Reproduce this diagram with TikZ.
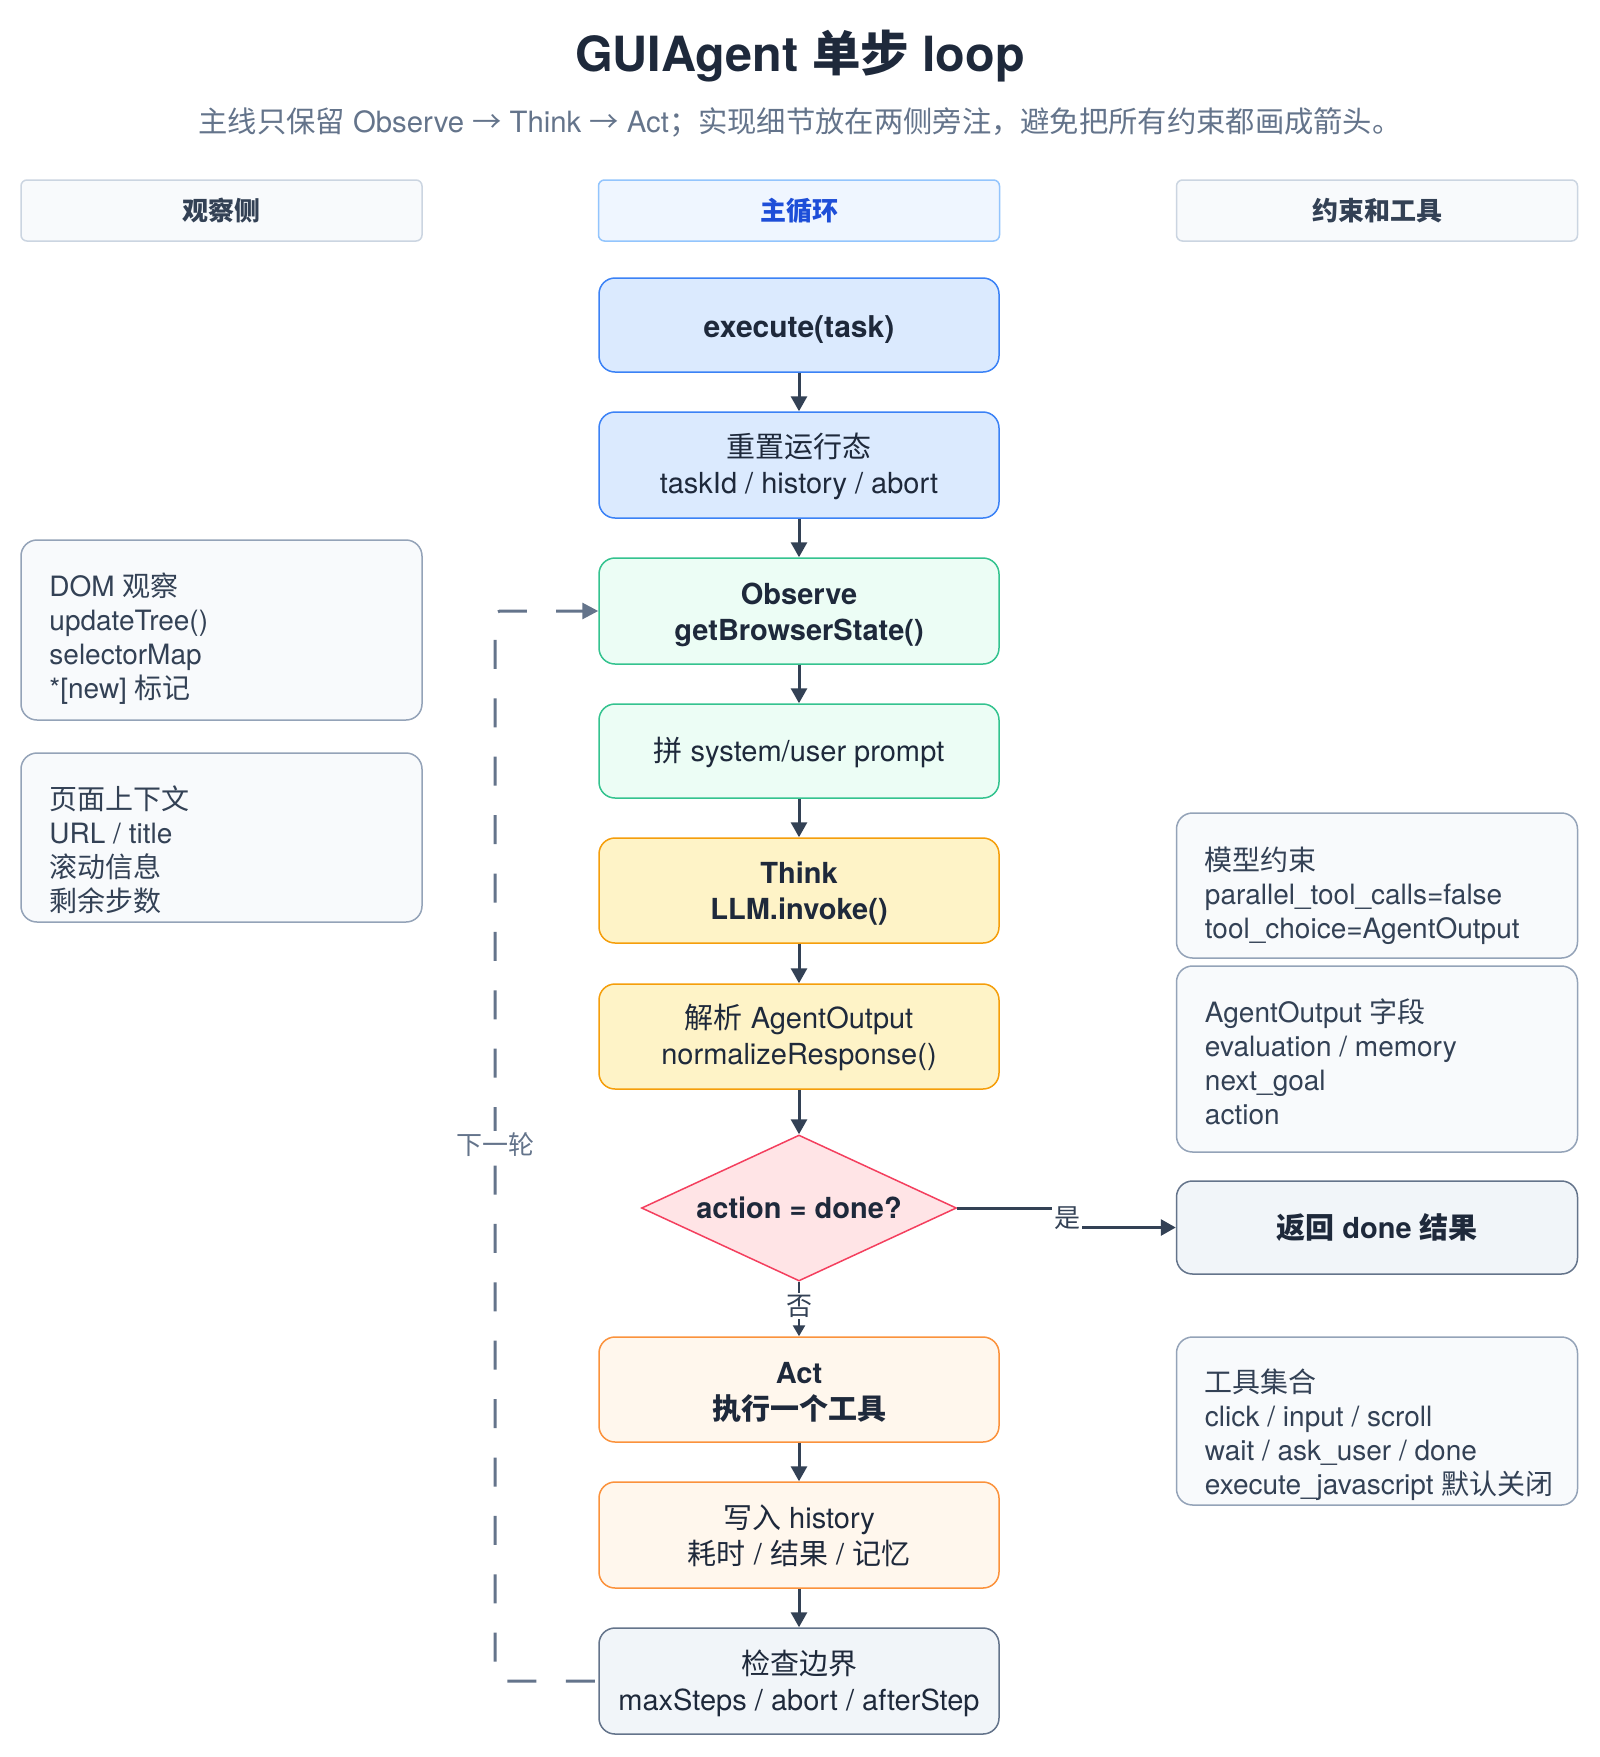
\documentclass[tikz,border=0pt]{standalone}
\usepackage{fontspec}
\setmainfont{TeX Gyre Heros}
\newfontfamily\cjk{Noto Sans CJK SC}
\newcommand\zh[1]{{\cjk #1}}
\usetikzlibrary{arrows.meta,shapes.geometric}

\definecolor{ink}{HTML}{1E293B}
\definecolor{slate}{HTML}{334155}
\definecolor{muted}{HTML}{64748B}
\definecolor{blueFill}{HTML}{DBEAFE}
\definecolor{blueLine}{HTML}{3B82F6}
\definecolor{greenFill}{HTML}{ECFDF5}
\definecolor{greenLine}{HTML}{34C38F}
\definecolor{amberFill}{HTML}{FEF3C7}
\definecolor{amberLine}{HTML}{F59E0B}
\definecolor{roseFill}{HTML}{FFE4E6}
\definecolor{roseLine}{HTML}{F43F5E}
\definecolor{orangeFill}{HTML}{FFF7ED}
\definecolor{orangeLine}{HTML}{FB923C}
\definecolor{greyFill}{HTML}{F1F5F9}
\definecolor{sideFill}{HTML}{F8FAFC}
\definecolor{sideLine}{HTML}{94A3B8}
\definecolor{headLine}{HTML}{CBD5E1}
\definecolor{headBlueFill}{HTML}{EFF6FF}
\definecolor{headBlueLine}{HTML}{93C5FD}
\definecolor{headBlueText}{HTML}{1D4ED8}

\tikzset{
  x=1pt, y=-1pt,
  % box outlines of the main column (text is set separately)
  mainbox/.style={draw, rounded corners=16pt, line width=1.5pt, minimum width=400pt, inner sep=0pt},
  bluebox/.style={mainbox, fill=blueFill, draw=blueLine},
  greenbox/.style={mainbox, fill=greenFill, draw=greenLine},
  amberbox/.style={mainbox, fill=amberFill, draw=amberLine},
  orangebox/.style={mainbox, fill=orangeFill, draw=orangeLine},
  greybox/.style={mainbox, fill=greyFill, draw=muted},
  maintext/.style={align=center, text=ink, inner sep=0pt, font=\fontsize{29}{36}\selectfont},
  boldtext/.style={maintext, font=\fontsize{29}{36}\selectfont\bfseries},
  header/.style={draw=headLine, fill=sideFill, rounded corners=6pt, line width=1.5pt,
    minimum width=401pt, minimum height=61pt, text=slate, inner sep=0pt,
    font=\fontsize{26}{30}\selectfont\bfseries},
  % side notes: outline plus top-left aligned text
  sidebox/.style={draw=sideLine, fill=sideFill, rounded corners=16pt, line width=1.5pt,
    minimum width=401pt, inner sep=0pt},
  sidetext/.style={anchor=north west, align=left, text=slate, inner sep=0pt,
    font=\fontsize{28}{34}\selectfont},
  resultbox/.style={draw=muted, fill=greyFill, rounded corners=16pt, line width=1.5pt,
    minimum width=401pt, minimum height=93pt, inner sep=0pt, text=ink,
    font=\fontsize{29}{34}\selectfont\bfseries},
  arr/.style={draw=slate, line width=3pt, -{Triangle[length=15pt,width=16pt]}},
  smallarr/.style={draw=slate, line width=2.5pt, -{Triangle[length=11pt,width=12pt]}},
  loopline/.style={draw=muted, line width=3pt, dash pattern=on 29pt off 29.4pt, dash phase=55pt,
    rounded corners=5pt, -{Triangle[length=16pt,width=16pt]}},
  tag/.style={fill=white, inner sep=2pt, text=slate, font=\fontsize{26}{30}\selectfont},
}

\begin{document}
\begin{tikzpicture}
  \fill[white] (0,0) rectangle (1600,1757);
  \useasboundingbox (0,0) rectangle (1600,1757);

  % title and subtitle
  \node[text=ink, font=\fontsize{48.5}{54}\selectfont\bfseries] (title) at (800,56)
    {GUIAgent \zh{单步} loop};
  \node[text=muted, font=\fontsize{29.3}{34}\selectfont] (subtitle) at (800,122)
    {\zh{主线只保留} Observe \zh{→} Think \zh{→} Act\zh{；实现细节放在两侧旁注，避免把所有约束都画成箭头。}};

  % column headers
  \node[header] (hl) at (221.5,210.5) {\zh{观察侧}};
  \node[header, fill=headBlueFill, draw=headBlueLine, text=headBlueText] (hc) at (799,210.5) {\zh{主循环}};
  \node[header] (hr) at (1377,210.5) {\zh{约束和工具}};

  % main loop boxes
  \node[bluebox, minimum height=94pt] (exec) at (799,325) {};
  \node[boldtext, font=\fontsize{30}{36}\selectfont\bfseries] (exec-t) at (799,329.5) {execute(task)};
  \node[bluebox, minimum height=106pt] (reset) at (799,465) {};
  \node[maintext] (reset-t) at (799,466.7) {\zh{重置运行态}\\taskId / history / abort};
  \node[greenbox, minimum height=106pt] (obs) at (799,611) {};
  \node[boldtext] (obs-t) at (799,614.9) {Observe\\getBrowserState()};
  \node[greenbox, minimum height=94pt] (prompt) at (799,751) {};
  \node[maintext] (prompt-t) at (799,752) {\zh{拼} system/user prompt};
  \node[amberbox, minimum height=105pt] (think) at (799,890.5) {};
  \node[boldtext] (think-t) at (799,893.9) {Think\\LLM.invoke()};
  \node[amberbox, minimum height=105pt] (parse) at (799,1036.5) {};
  \node[maintext] (parse-t) at (799,1037.5) {\zh{解析} AgentOutput\\normalizeResponse()};
  \node[diamond, draw=roseLine, fill=roseFill, line width=1.5pt, inner sep=0pt, aspect=2.15,
        minimum width=315pt, minimum height=146pt, text=ink,
        font=\fontsize{29}{34}\selectfont\bfseries] (dia) at (799,1208) {action = done?};
  \node[orangebox, minimum height=105pt] (act) at (799,1389.5) {};
  \node[boldtext] (act-t) at (799,1392.3) {Act\\\zh{执行一个工具}};
  \node[orangebox, minimum height=106pt] (hist) at (799,1535) {};
  \node[maintext] (hist-t) at (799,1536) {\zh{写入} history\\\zh{耗时} / \zh{结果} / \zh{记忆}};
  \node[greybox, minimum height=106pt] (chk) at (799,1681) {};
  \node[maintext] (chk-t) at (799,1683) {\zh{检查边界}\\maxSteps / abort / afterStep};

  % observation side
  \node[sidebox, minimum height=180pt] (dom) at (221.5,630) {};
  \node[sidetext] (dom-t) at ([xshift=29pt, yshift=-33pt]dom.north west)
    {DOM \zh{观察}\\updateTree()\\selectorMap\\\relax{}*[new] \zh{标记}};
  \node[sidebox, minimum height=169pt] (page) at (221.5,837.5) {};
  \node[sidetext] (page-t) at ([xshift=29pt, yshift=-33pt]page.north west)
    {\zh{页面上下文}\\URL / title\\\zh{滚动信息}\\\zh{剩余步数}};

  % constraints and tools side
  \node[sidebox, minimum height=145pt] (model) at (1377,885.5) {};
  \node[sidetext] (model-t) at ([xshift=29pt, yshift=-35pt]model.north west)
    {\zh{模型约束}\\parallel\_tool\_calls=false\\tool\_choice=AgentOutput};
  \node[sidebox, minimum height=186pt] (fields) at (1377,1059) {};
  \node[sidetext] (fields-t) at ([xshift=29pt, yshift=-33pt]fields.north west)
    {AgentOutput \zh{字段}\\evaluation / memory\\next\_goal\\action};
  \node[resultbox] (done) at (1377,1227.5) {\zh{返回} done \zh{结果}};
  \node[sidebox, minimum height=168pt] (tools) at (1377,1421) {};
  \node[sidetext] (tools-t) at ([xshift=29pt, yshift=-32pt]tools.north west)
    {\zh{工具集合}\\click / input / scroll\\wait / ask\_user / done\\execute\_javascript \zh{默认关闭}};

  % main flow arrows
  \draw[arr] (exec.south) -- (reset.north);
  \draw[arr] (reset.south) -- (obs.north);
  \draw[arr] (obs.south) -- (prompt.north);
  \draw[arr] (prompt.south) -- (think.north);
  \draw[arr] (think.south) -- (parse.north);
  \draw[arr] (parse.south) -- (dia.north);
  \draw[arr] (act.south) -- (hist.north);
  \draw[arr] (hist.south) -- (chk.north);

  % decision branches
  \coordinate (yesbend) at (1067,1208);
  \draw[arr] (dia.east) -- (yesbend) |- (done.west);
  \node[tag] (yes) at (1067,1218) {\zh{是}};
  \draw[smallarr] (dia.south) -- (act.north);
  \node[tag] (no) at (799,1306) {\zh{否}};

  % next-round loop back to Observe
  \coordinate (loopx) at (495,0);
  \draw[loopline] (chk.west) -- (chk.west -| loopx) -- (obs.west -| loopx) -- (obs.west);
  \node[tag, text=muted] (next) at (495,1145) {\zh{下一轮}};
\end{tikzpicture}
\end{document}
